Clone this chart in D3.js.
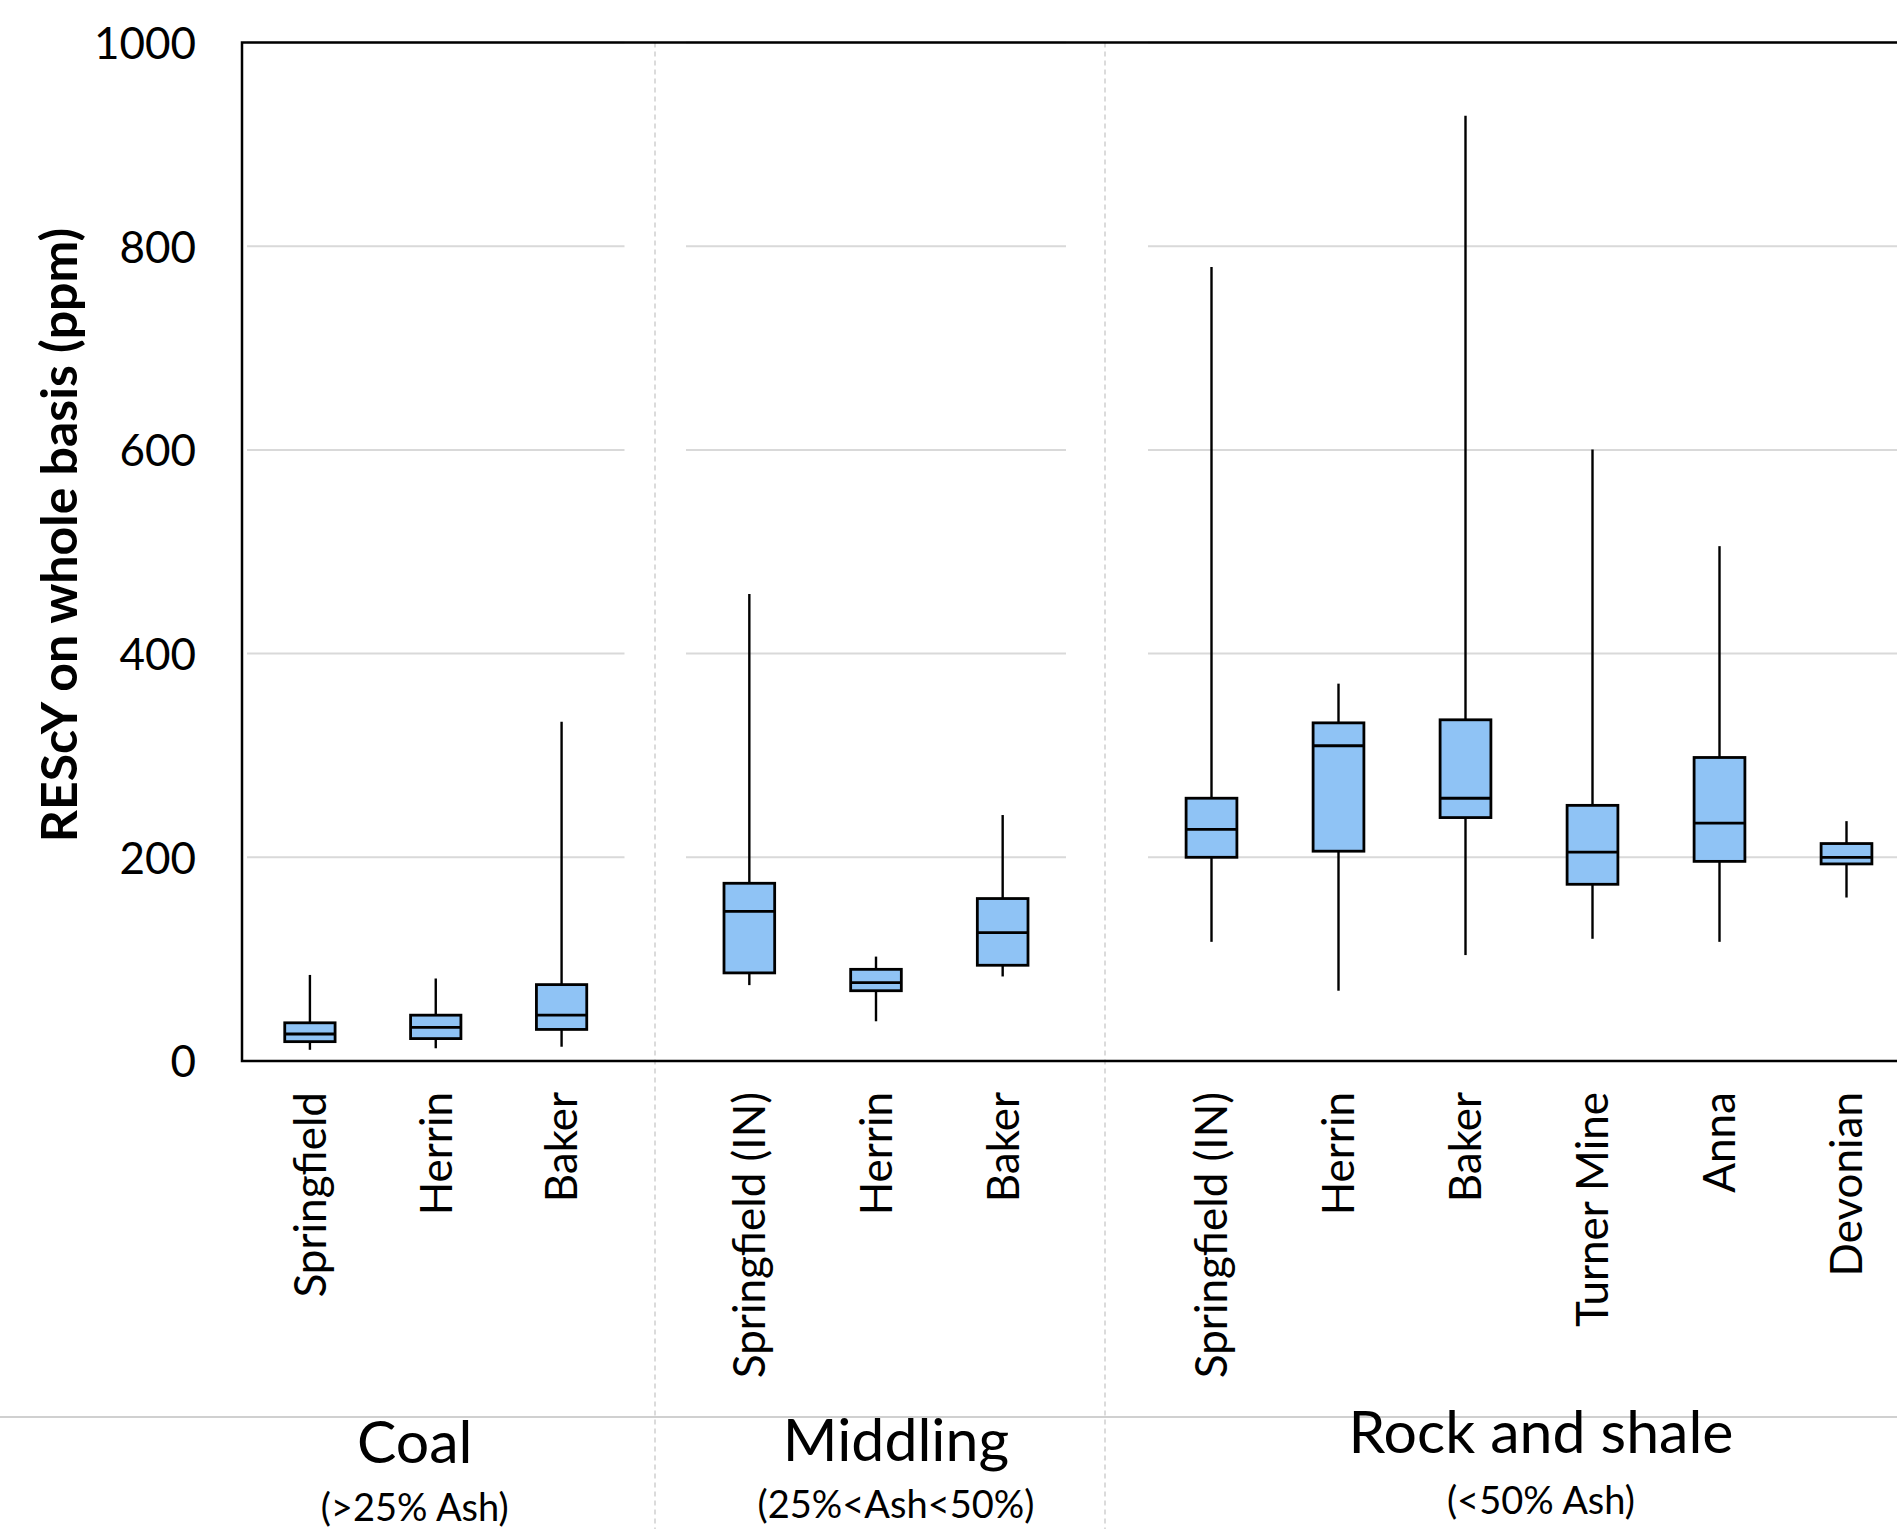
<!DOCTYPE html>
<html lang="en">
<head>
<meta charset="utf-8">
<title>REScY on whole basis</title>
<script src="https://d3js.org/d3.v7.min.js"></script>
<style>
body { margin: 0; background: #fff; }
text { font-family: Lato, "Open Sans", sans-serif; fill: #000; }
</style>
</head>
<body>
<script>

// values (ppm)
var groups = ["Coal", "Middling", "Rock and shale"];
var groupNotes = ["(>25% Ash)", "(25%<Ash<50%)", "(<50% Ash)"];
var samples = ["Springfield", "Herrin", "Baker",
               "Springfield (IN)", "Herrin", "Baker",
               "Springfield (IN)", "Herrin", "Baker", "Turner Mine", "Anna", "Devonian"];
var sampleGroup = [0, 0, 0, 1, 1, 1, 2, 2, 2, 2, 2, 2];
var whiskerLow  = [11,   12.5, 14,  74.5,  39,    83,    117,   69,    104, 120,   117,   160.5];
var q1          = [19,   22,   31,  86.5,  69,    94,    200,   206,   239, 173.5, 196,   193.5];
var median      = [26.5, 33,   45,  147,   77,    126,   227.5, 309.5, 258, 205,   233.5, 200];
var q3          = [37.5, 45,   75,  174.5, 90,    159.5, 258,   332,   335, 251,   298,   213.5];
var whiskerHigh = [84.5, 81,   333, 458.5, 102.5, 241.5, 779.5, 370.5, 928, 600.5, 505.5, 235.5];
var yTicks = [0, 200, 400, 600, 800, 1000];

var W = 1897, H = 1529;
var plot = {left: 242, top: 42.5, bottom: 1061};
// horizontal span of each group's slots
var groupRange = [[247, 624.5], [686, 1066], [1148, 1910]];
var dividers = [655, 1105];
var labelTop = 1092;
var groupLabelShift = [-21, 20, 12];
var groupLabelY = [1463, 1461, 1453];
var groupNoteY = [1521, 1518, 1514];

var svg = d3.select("body").append("svg")
    .attr("width", W)
    .attr("height", H);

var y = d3.scaleLinear()
    .domain([0, 1000])
    .range([plot.bottom, plot.top]);

var x = groups.map(function(g, gi) {
  var idx = d3.range(samples.length).filter(function(i) { return sampleGroup[i] === gi; });
  return d3.scaleBand()
      .domain(idx)
      .range(groupRange[gi])
      .paddingInner(0.6)
      .paddingOuter(0.3);
});

function xc(i) {
  var s = x[sampleGroup[i]];
  return s(i) + s.bandwidth() / 2;
}
function bw(i) { return x[sampleGroup[i]].bandwidth(); }

// gridlines, one run per group
groups.forEach(function(g, gi) {
  svg.append("g")
    .selectAll("line")
    .data(yTicks)
    .enter().append("line")
    .attr("x1", groupRange[gi][0])
    .attr("x2", groupRange[gi][1])
    .attr("y1", function(d) { return y(d); })
    .attr("y2", function(d) { return y(d); })
    .style("stroke", "#d9d9d9")
    .style("stroke-width", 2);
});

// dashed group dividers
svg.append("g")
  .selectAll("line")
  .data(dividers)
  .enter().append("line")
  .attr("x1", function(d) { return d; })
  .attr("x2", function(d) { return d; })
  .attr("y1", plot.top)
  .attr("y2", H)
  .style("stroke", "#c8c8c8")
  .style("stroke-width", 1.3)
  .style("stroke-dasharray", "5,4");

// rule above the group names
svg.append("line")
  .attr("x1", 0).attr("x2", W)
  .attr("y1", 1417).attr("y2", 1417)
  .style("stroke", "#c0c0c0")
  .style("stroke-width", 1.5);

// boxes
var box = svg.append("g")
  .selectAll("g")
  .data(d3.range(samples.length))
  .enter().append("g");

box.append("line")
  .attr("x1", xc).attr("x2", xc)
  .attr("y1", function(i) { return y(whiskerLow[i]); })
  .attr("y2", function(i) { return y(q1[i]); })
  .style("stroke", "#000").style("stroke-width", 2.4);

box.append("line")
  .attr("x1", xc).attr("x2", xc)
  .attr("y1", function(i) { return y(q3[i]); })
  .attr("y2", function(i) { return y(whiskerHigh[i]); })
  .style("stroke", "#000").style("stroke-width", 2.4);

box.append("rect")
  .attr("x", function(i) { return xc(i) - bw(i) / 2; })
  .attr("width", bw)
  .attr("y", function(i) { return y(q3[i]); })
  .attr("height", function(i) { return y(q1[i]) - y(q3[i]); })
  .style("fill", "#8fc3f5")
  .style("stroke", "#000")
  .style("stroke-width", 2.8);

box.append("line")
  .attr("x1", function(i) { return xc(i) - bw(i) / 2; })
  .attr("x2", function(i) { return xc(i) + bw(i) / 2; })
  .attr("y1", function(i) { return y(median[i]); })
  .attr("y2", function(i) { return y(median[i]); })
  .style("stroke", "#000").style("stroke-width", 2.8);

// frame
svg.append("path")
  .attr("d", "M" + (W + 10) + "," + plot.top + "H" + plot.left + "V" + plot.bottom + "H" + (W + 10))
  .style("fill", "none")
  .style("stroke", "#000")
  .style("stroke-width", 2.5);

// y axis labels
var yAxis = svg.append("g")
  .attr("transform", "translate(" + plot.left + ",0)")
  .call(d3.axisLeft(y).tickValues(yTicks).tickFormat(d3.format("d")).tickSize(0).tickPadding(46));
yAxis.select(".domain").remove();
yAxis.attr("font-family", null).attr("font-size", null);
yAxis.selectAll("text")
  .style("font-size", "44px")
  .attr("dy", "0.36em");

svg.append("text")
  .attr("transform", "translate(77,535) rotate(-90)")
  .attr("text-anchor", "middle")
  .attr("font-weight", "bold")
  .style("font-size", "50px")
  .text("REScY on whole basis (ppm)");

// sample names
svg.append("g")
  .selectAll("text")
  .data(d3.range(samples.length))
  .enter().append("text")
  .attr("transform", function(i) { return "translate(" + xc(i) + "," + labelTop + ") rotate(-90)"; })
  .attr("text-anchor", "end")
  .attr("dy", "0.36em")
  .style("font-size", "44px")
  .text(function(i) { return samples[i]; });

// group names
groups.forEach(function(g, gi) {
  var cx = (groupRange[gi][0] + groupRange[gi][1]) / 2 + groupLabelShift[gi];
  svg.append("text")
    .attr("x", cx)
    .attr("y", groupLabelY[gi])
    .attr("text-anchor", "middle")
    .style("font-size", "59px")
    .text(g);
  svg.append("text")
    .attr("x", cx)
    .attr("y", groupNoteY[gi])
    .attr("text-anchor", "middle")
    .style("font-size", "38px")
    .text(groupNotes[gi]);
});

</script>
</body>
</html>
